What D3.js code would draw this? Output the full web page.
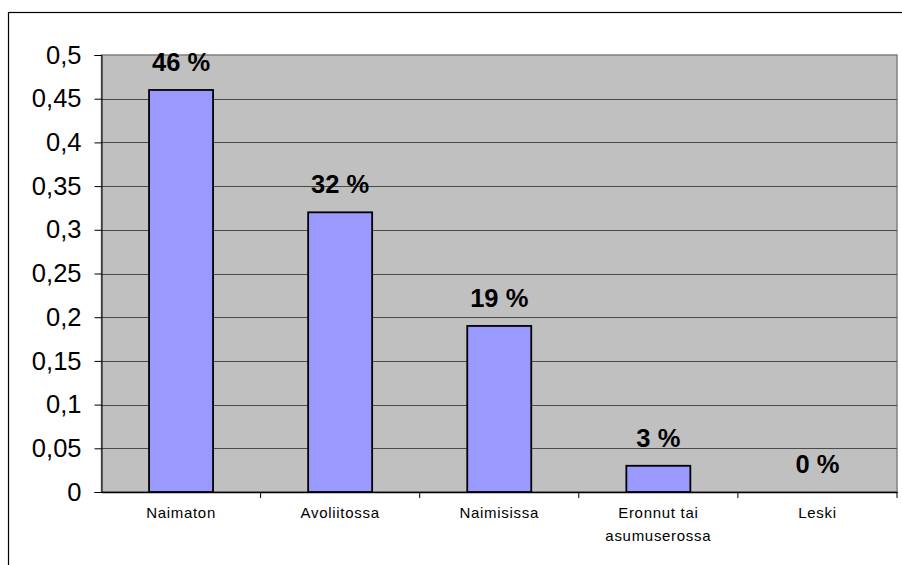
<!DOCTYPE html>
<html>
<head>
<meta charset="utf-8">
<script src="https://cdn.jsdelivr.net/npm/d3@7"></script>
<style>
  html, body { margin: 0; padding: 0; background: #fff; }
  svg { display: block; }
</style>
</head>
<body>
<script>
// Siviilisääty: osuudet vastaajista
const categories = ["Naimaton", "Avoliitossa", "Naimisissa", "Eronnut tai|asumuserossa", "Leski"];
const values = [0.46, 0.32, 0.19, 0.03, 0.0];
const valueLabels = ["46 %", "32 %", "19 %", "3 %", "0 %"];
const yTicks = [0, 0.05, 0.1, 0.15, 0.2, 0.25, 0.3, 0.35, 0.4, 0.45, 0.5];

const W = 902, H = 565;
const plot = { left: 101.5, top: 55, right: 897, bottom: 492 };
const FONT = "Arial, 'Liberation Sans', sans-serif";

const svg = d3.select("body").append("svg").attr("width", W).attr("height", H);

// chart frame
svg.append("rect")
  .attr("x", 8.5).attr("y", 12.5)
  .attr("width", W + 20).attr("height", H + 20)
  .attr("fill", "#fff").attr("stroke", "#000").attr("stroke-width", 1.2);

const x = d3.scaleBand().domain(categories).range([plot.left, plot.right]).paddingInner(0).paddingOuter(0);
const y = d3.scaleLinear().domain([0, 0.5]).range([plot.bottom, plot.top]);

// plot area
svg.append("rect")
  .attr("x", plot.left).attr("y", plot.top)
  .attr("width", plot.right - plot.left).attr("height", plot.bottom - plot.top)
  .attr("fill", "#c0c0c0").attr("stroke", "#808080").attr("stroke-width", 1.5);

// gridlines
svg.append("g").selectAll("line")
  .data(yTicks.filter(d => d > 0 && d < 0.5))
  .join("line")
  .attr("x1", plot.left).attr("x2", plot.right)
  .attr("y1", d => Math.round(y(d)) + 0.5).attr("y2", d => Math.round(y(d)) + 0.5)
  .attr("stroke", "#4a4a4a").attr("stroke-width", 1);

// y axis
const yAxis = d3.axisLeft(y)
  .tickValues(yTicks)
  .tickSize(7)
  .tickPadding(13)
  .tickFormat(d => d3.format(".2~f")(d).replace(".", ","));
const gy = svg.append("g").attr("transform", `translate(${plot.left},0)`).call(yAxis);
gy.select(".domain").attr("stroke", "#000").attr("stroke-width", 1);
gy.selectAll(".tick line").attr("stroke", "#000");
gy.selectAll(".tick text")
  .attr("font-family", FONT)
  .attr("font-size", 25.5).attr("fill", "#000");

// x axis
const xAxis = d3.axisBottom(x).tickSize(0).tickFormat("");
const gx = svg.append("g").attr("transform", `translate(0,${plot.bottom})`).call(xAxis);
gx.select(".domain").attr("stroke", "#000").attr("stroke-width", 1.5);
// tick marks between categories
svg.append("g").selectAll("line")
  .data(categories)
  .join("line")
  .attr("x1", d => x(d) + x.bandwidth())
  .attr("x2", d => x(d) + x.bandwidth())
  .attr("y1", plot.bottom).attr("y2", plot.bottom + 6)
  .attr("stroke", "#000").attr("stroke-width", 1);

// category labels
const catText = svg.append("g").selectAll("text")
  .data(categories)
  .join("text")
  .attr("x", d => x(d) + x.bandwidth() / 2)
  .attr("y", 518)
  .attr("text-anchor", "middle")
  .attr("font-family", FONT)
  .attr("font-size", 15)
  .attr("letter-spacing", 0.7)
  .attr("fill", "#000");
catText.each(function(d) {
  const parts = d.split("|");
  const t = d3.select(this);
  parts.forEach((p, i) => {
    t.append("tspan").attr("x", x(d) + x.bandwidth() / 2).attr("dy", i === 0 ? 0 : 22.5).text(p);
  });
});

const rows = categories.map((c, i) => ({ c, v: values[i], label: valueLabels[i] }));

// bars
const barW = 64;
svg.append("g").selectAll("rect")
  .data(rows)
  .join("rect")
  .attr("x", d => x(d.c) + x.bandwidth() / 2 - barW / 2)
  .attr("y", d => y(d.v))
  .attr("width", barW)
  .attr("height", d => y(0) - y(d.v))
  .attr("fill", "#9999ff")
  .attr("stroke", "#000")
  .attr("stroke-width", d => d.v > 0 ? 1.8 : 0);

// value labels
svg.append("g").selectAll("text")
  .data(rows)
  .join("text")
  .attr("x", d => x(d.c) + x.bandwidth() / 2)
  .attr("y", d => y(d.v) - 19)
  .attr("text-anchor", "middle")
  .attr("font-family", FONT)
  .attr("font-size", 25.5)
  .attr("font-weight", "bold")
  .attr("fill", "#000")
  .text(d => d.label);
</script>
</body>
</html>
